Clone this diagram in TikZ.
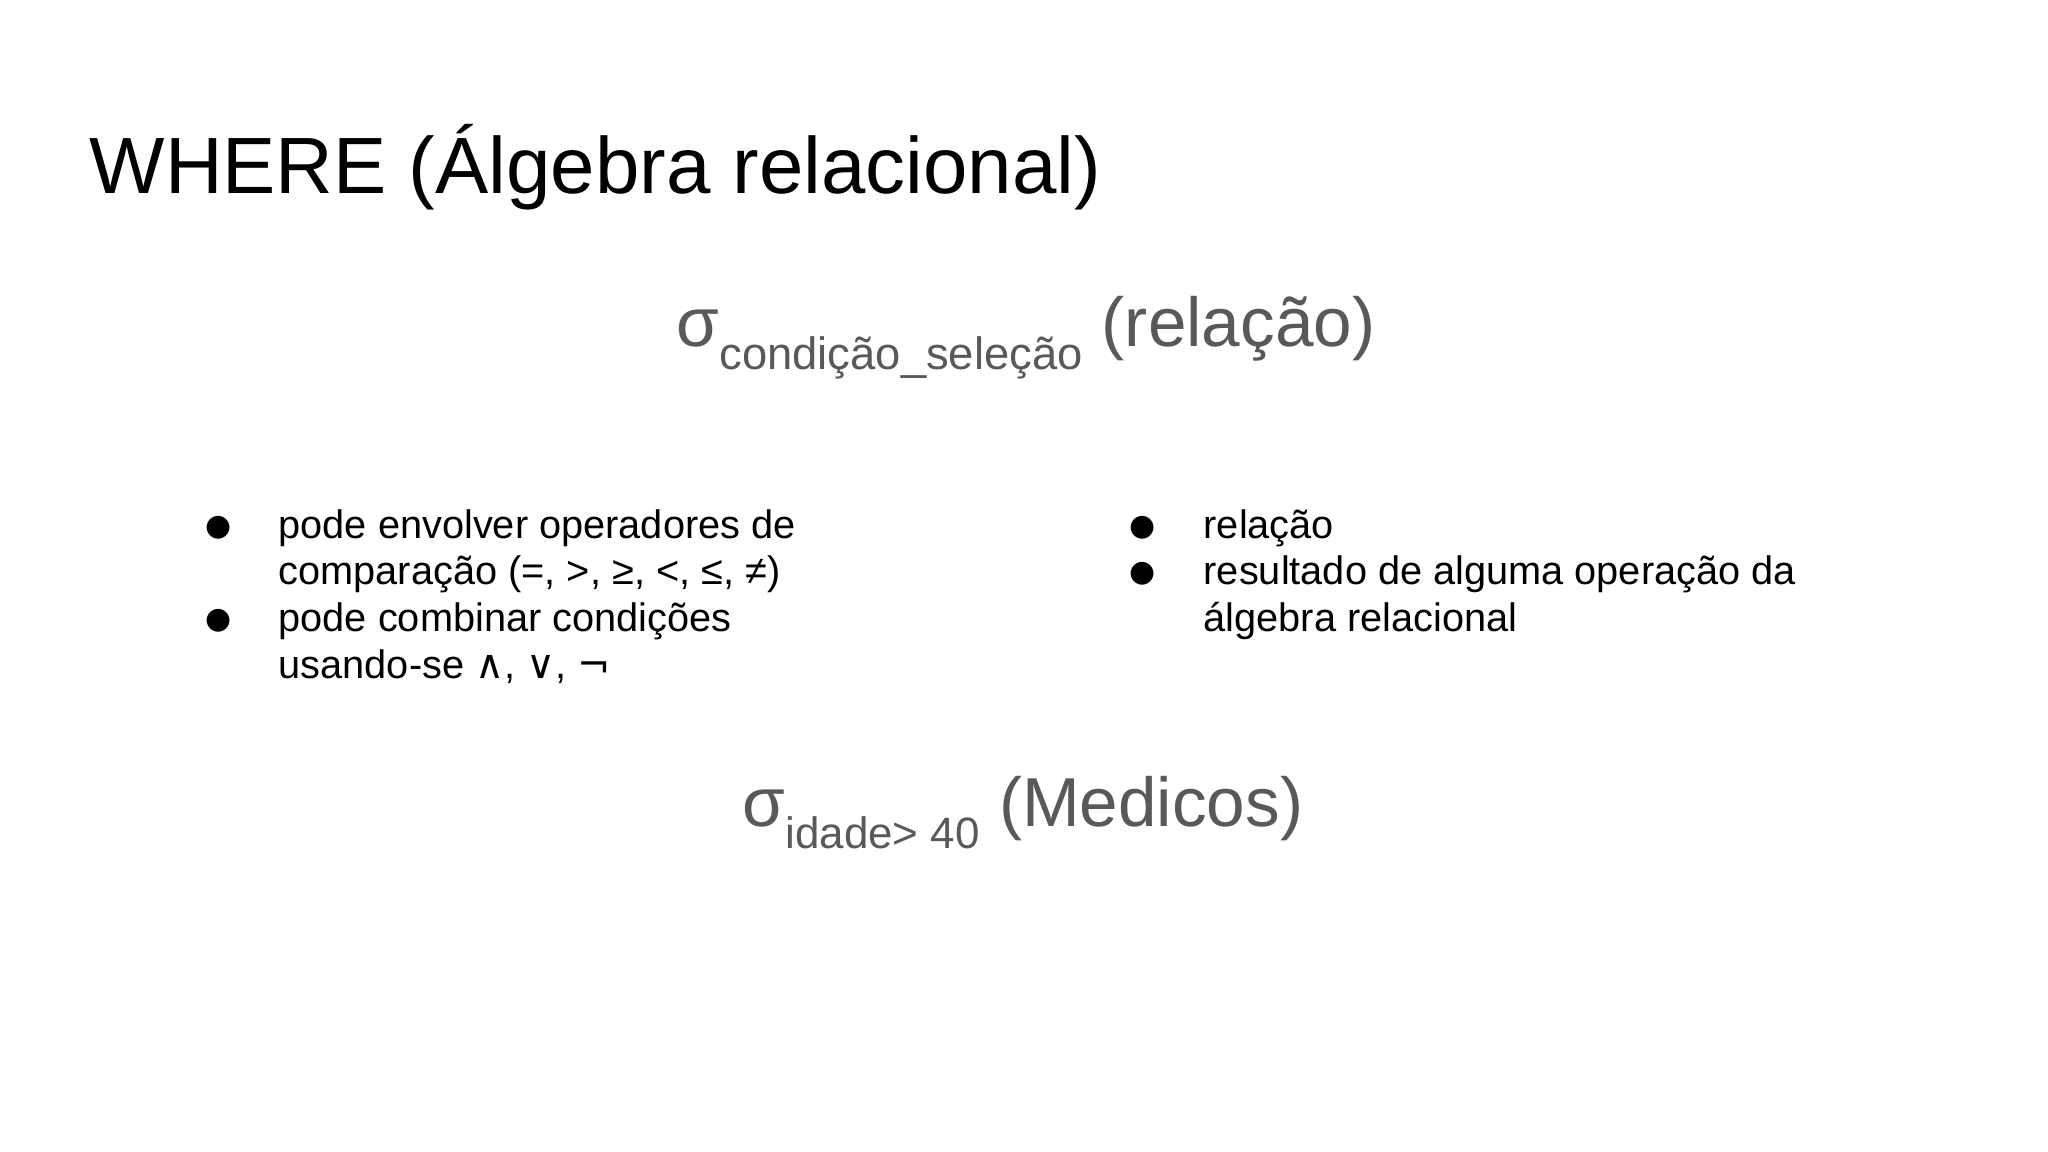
\documentclass[tikz,border=0pt]{standalone}
\usepackage{fontspec}
\setmainfont{Liberation Sans}
\newfontfamily\dvs{DejaVu Sans}
\definecolor{fgray}{HTML}{595959}
\begin{document}
\begin{tikzpicture}[x=0.01cm,y=-0.01cm,
  tx/.style={anchor=base west,inner sep=0pt,font=\fontsize{11.3pt}{14pt}\selectfont},
  bl/.style={anchor=base west,inner sep=0pt,font=\dvs\fontsize{8.5pt}{10pt}\selectfont},
  fm/.style={anchor=base west,inner sep=0pt,text=fgray,font=\fontsize{19.7pt}{24pt}\selectfont}]
\useasboundingbox[fill=white] (0,0) rectangle (2048,1152);
\node[anchor=base west,inner sep=0pt,font=\fontsize{22.7pt}{27pt}\selectfont] (title) at (89,194) {WHERE (Álgebra relacional)};
\node[fm] (f1) at (676,347) {σ\raisebox{-0.32em}{\fontsize{12.9pt}{14pt}\selectfont condição\_seleção} (relação)};
\node[bl] (b1) at (205,536) {●};
\node[tx] (l1) at (278,538) {pode envolver operadores de};
\node[tx] (l2) at (278,584) {comparação (=, >, ≥, <, ≤, ≠)};
\node[bl] (b2) at (205,629) {●};
\node[tx] (l3) at (278,631) {pode combinar condições};
\node[tx] (l4) at (278,678) {usando-se {\dvs ∧}, {\dvs ∨}, {\dvs ¬}};
\node[bl] (b3) at (1129,536) {●};
\node[tx] (r1) at (1203,538) {relação};
\node[bl] (b4) at (1129,582) {●};
\node[tx] (r2) at (1203,584) {resultado de alguma operação da};
\node[tx] (r3) at (1203,631) {álgebra relacional};
\node[fm] (f2) at (742,826) {σ\raisebox{-0.32em}{\fontsize{12.5pt}{14pt}\selectfont idade> 40} (Medicos)};
\end{tikzpicture}
\end{document}
